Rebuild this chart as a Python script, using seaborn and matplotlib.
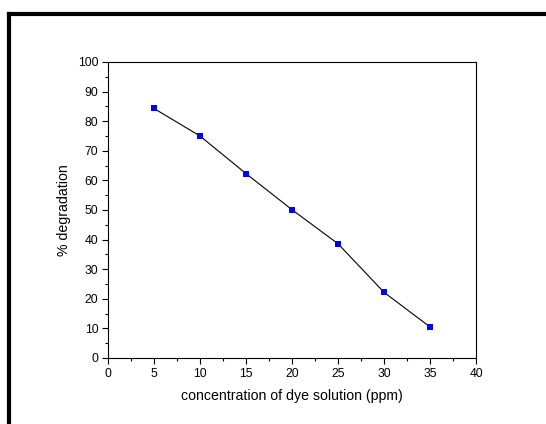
import matplotlib
matplotlib.use("Agg")
import matplotlib.pyplot as plt
import seaborn as sns
import pandas as pd
from matplotlib.lines import Line2D
from matplotlib.ticker import MultipleLocator

concentration = [5, 10, 15, 20, 25, 30, 35]
degradation = [84.3, 75.0, 62.3, 50.1, 38.6, 22.2, 10.5]
x_ticks = [0, 5, 10, 15, 20, 25, 30, 35, 40]
y_ticks = [0, 10, 20, 30, 40, 50, 60, 70, 80, 90, 100]

sns.set_theme(style="ticks")
plt.rcParams['font.family'] = ['Liberation Sans', 'DejaVu Sans']
plt.rcParams['text.color'] = 'black'
plt.rcParams['axes.labelcolor'] = 'black'
plt.rcParams['xtick.color'] = 'black'
plt.rcParams['ytick.color'] = 'black'

df = pd.DataFrame({"conc": concentration, "deg": degradation})

fig = plt.figure(figsize=(5.46, 4.24), dpi=100)
ax = fig.add_axes([108/546, 1-358/424, 368/546, 296/424])

sns.lineplot(data=df, x="conc", y="deg", ax=ax, color="black", linewidth=0.8,
             marker="s", markersize=5, markerfacecolor="#0000FF",
             markeredgecolor="#0000FF", markeredgewidth=0)

ax.set_xlim(0, 40)
ax.set_ylim(0, 100)
ax.set_xticks(x_ticks)
ax.set_yticks(y_ticks)
ax.xaxis.set_minor_locator(MultipleLocator(2.5))
ax.yaxis.set_minor_locator(MultipleLocator(5))
ax.tick_params(which="major", direction="out", length=4.5, width=0.8, color="black",
               labelsize=8.7, pad=2.5, top=False, right=False, labelcolor="black")
ax.tick_params(which="minor", direction="out", length=2.5, width=0.8, color="black",
               top=False, right=False)
for s in ax.spines.values():
    s.set_visible(True)
    s.set_color("black")
    s.set_linewidth(0.8)
ax.set_xlabel("concentration of dye solution (ppm)", fontsize=10.2, labelpad=7, color="black")
ax.set_ylabel("% degradation", fontsize=10.2, labelpad=5, color="black")

# outer frame (top and left visible)
fig.add_artist(Line2D([8.5/546, 1.0], [1-14/424, 1-14/424], transform=fig.transFigure,
                      color="black", linewidth=3, solid_capstyle="projecting"))
fig.add_artist(Line2D([8.5/546, 8.5/546], [0, 1-14/424], transform=fig.transFigure,
                      color="black", linewidth=3, solid_capstyle="projecting"))

fig.savefig("out.png", dpi=100)
